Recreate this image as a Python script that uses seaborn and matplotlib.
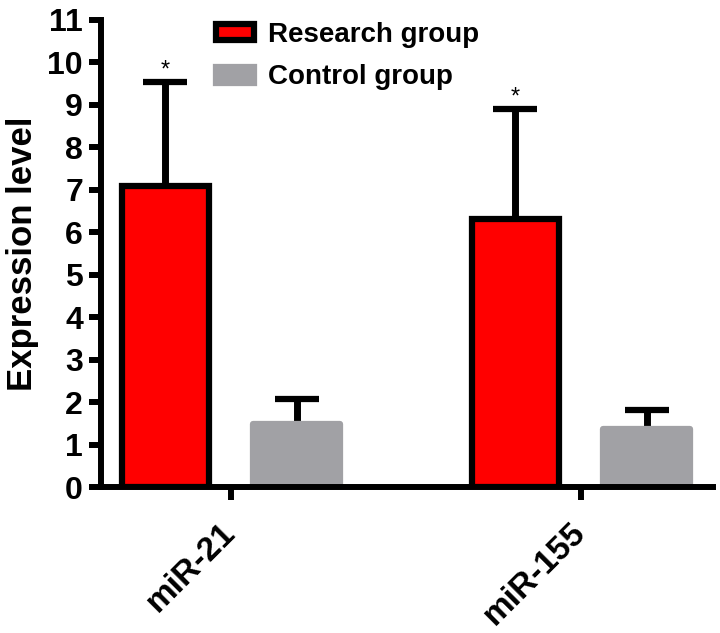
import matplotlib
matplotlib.use("Agg")
import matplotlib.pyplot as plt
import seaborn as sns
import pandas as pd

# data
genes = ["miR-21", "miR-155"]
groups = ["Research group", "Control group"]
research_mean = [7.1, 6.32]
research_err = [2.44, 2.58]
control_mean = [1.5, 1.38]
control_err = [0.58, 0.44]

sns.set_style("ticks")
plt.rcParams['font.family'] = ['Liberation Sans', 'DejaVu Sans']
plt.rcParams['text.color'] = 'black'
plt.rcParams['axes.labelcolor'] = 'black'
plt.rcParams['xtick.color'] = 'black'
plt.rcParams['ytick.color'] = 'black'
plt.rcParams['axes.edgecolor'] = 'black'

df = pd.DataFrame({
    "gene": genes * 2,
    "group": [groups[0]] * 2 + [groups[1]] * 2,
    "value": research_mean + control_mean,
})

fig = plt.figure(figsize=(7.2, 6.33), dpi=100)
ax = fig.add_axes([0.1403, 0.2299, 0.85, 0.7386])

sns.barplot(data=df, x="gene", y="value", hue="group", order=genes, hue_order=groups,
            palette=["#ff0000", "#a1a1a5"], saturation=1, width=0.75, gap=0.34,
            errorbar=None, legend=False, ax=ax, zorder=2)

bars = list(ax.containers)

# styling the two bar series
for p in bars[0].patches:
    p.set_edgecolor("black")
    p.set_linewidth(4.5)
for p in bars[1].patches:
    p.set_edgecolor("#a1a1a5")
    p.set_linewidth(4.5)
    p.set_joinstyle("round")

# one-sided error bars + stars
errs = [research_err, control_err]
for i, cont in enumerate(bars):
    xs = [p.get_x() + p.get_width() / 2 for p in cont.patches]
    ys = [p.get_height() for p in cont.patches]
    _, caps, _ = ax.errorbar(xs, ys, yerr=[[0] * len(ys), errs[i]], fmt="none",
                             ecolor="black", elinewidth=5, capsize=15.5, capthick=4.5,
                             zorder=1)
    caps[0].set_visible(False)
    if i == 0:
        for x, y, e in zip(xs, ys, errs[i]):
            ax.text(x, y + e + 0.02, "*", ha="center", va="bottom", fontsize=17)

ax.legend(bars, groups, loc="upper left", bbox_to_anchor=(0.188, 0.996),
          frameon=False, handlelength=1.37, handleheight=0.5,
          labelspacing=0.6, handletextpad=0.5, borderpad=0, borderaxespad=0,
          prop={"weight": "bold", "size": 20})

ax.set_ylim(0, 11)
ax.set_xlim(-0.371, 1.377)
ax.set_yticks(range(0, 12))
ax.set_xlabel("")
ax.set_ylabel("Expression level", fontsize=25, fontweight="bold", labelpad=6)
ax.tick_params(axis="y", labelsize=23, width=4.3, length=9, pad=4)
ax.tick_params(axis="x", labelsize=24, width=4.3, length=9, pad=20)
for lab in ax.get_yticklabels() + ax.get_xticklabels():
    lab.set_fontweight("bold")
plt.setp(ax.get_xticklabels(), rotation=45, ha="right", va="center",
         rotation_mode="anchor")
sns.despine(ax=ax)
for s in ["left", "bottom"]:
    ax.spines[s].set_linewidth(4.3)

fig.savefig("out.png", dpi=100)
